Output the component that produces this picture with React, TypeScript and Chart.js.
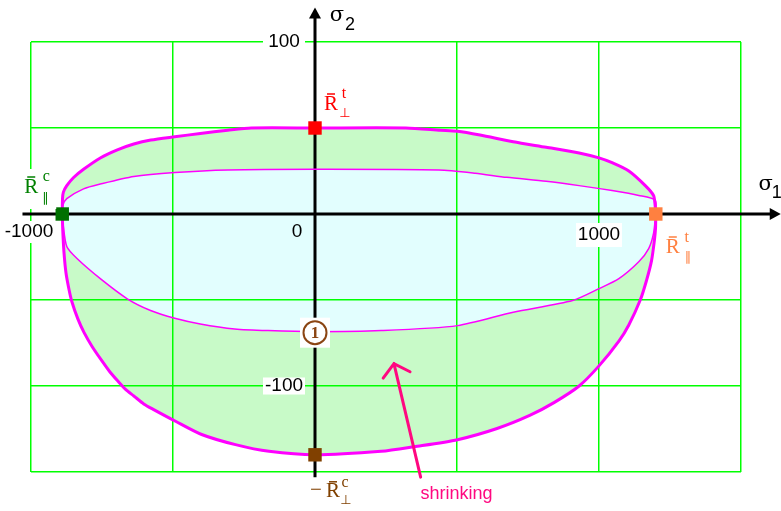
import { useEffect, useRef } from 'react';
import { Chart, registerables } from 'chart.js';

Chart.register(...registerables);

// Failure envelope in the σ1–σ2 plane (outer: initial, inner: after shrinking)
const OUTER_UPPER_X = [-890, -889, -886, -874, -850, -815, -756, -696, -638, -578, -494, -404, -307, -224, 0, 320, 442, 502, 581, 698, 814, 930, 1000, 1046, 1105, 1163, 1192, 1197, 1200];
const OUTER_UPPER_Y = [0, 8.9, 12.7, 16.5, 21.2, 26, 32.6, 37.3, 40.7, 43, 44.9, 46.8, 48.7, 50, 50, 50, 48.7, 48.1, 45.9, 42, 38.8, 35.5, 32.6, 29.8, 25, 16.5, 10.8, 6, 0];

const OUTER_LOWER_X = [-890, -888, -884, -877, -866, -856, -835, -813, -785, -752, -724, -695, -667, -638, -603, -568, -491, -399, -280, -162, 0, 233, 349, 502, 641, 756, 843, 930, 1000, 1070, 1105, 1146, 1167, 1185, 1195, 1199, 1200];
const OUTER_LOWER_Y = [0, -10, -22, -34, -44, -51, -61, -69, -77, -85, -91.4, -97, -102, -105.8, -110.4, -113.7, -120.5, -128.2, -134.1, -138, -140, -138, -135.3, -131.2, -124.7, -117.1, -109.5, -100, -88.3, -73.9, -64.5, -49.7, -38.8, -27.1, -15.4, -8.4, 0];

const INNER_UPPER_X = [-890, -888, -874, -815, -756, -638, -494, -307, 0, 436, 564, 675, 814, 930, 1046, 1140, 1198, 1200];
const INNER_UPPER_Y = [0, 5, 8.9, 14.6, 17.4, 21.8, 24.1, 25.6, 26, 25.6, 23.7, 21.3, 19, 16.5, 13.6, 10.8, 8, 0];

const INNER_LOWER_X = [-890, -887, -874, -838, -756, -661, -579, -494, -404, -283, -165, 0, 233, 502, 698, 907, 1000, 1070, 1140, 1175, 1192, 1200];
const INNER_LOWER_Y = [0, -6, -18.9, -25.9, -37.6, -49.3, -56.1, -60.6, -63.9, -66.8, -67.8, -68.4, -67.8, -64.9, -57.1, -50.3, -43.4, -37.6, -27.8, -20.1, -11.3, 0];

// Strength points on the axes
const MARKER_X = [-890, 0, 1200, 0];
const MARKER_Y = [0, 50, 0, -140];
const MARKER_COLORS = ['#007000', '#ff0000', '#ff8040', '#804000'];

// Axis ranges and tick values
const X_MIN = -1000;
const X_MAX = 1500;
const X_STEP = 500;
const Y_MIN = -150;
const Y_MAX = 100;
const Y_STEP = 50;
const X_TICK_LABELS = [-1000, 0, 1000];
const Y_TICK_LABELS = [100, -100];

// Extent of the drawn coordinate axes (beyond the grid)
const AXIS_X_FROM = -1030;
const AXIS_X_TO = 1640;
const AXIS_Y_FROM = -153;
const AXIS_Y_TO = 120;

// Shrinking annotation (data units)
const ARROW_TAIL = { x: 372, y: -153 };
const ARROW_TIP = { x: 278, y: -87 };
const SHRINK_TEXT = { x: 498, y: -163 };
const STATE_MARK = { x: 0, y: -69 };

const MAGENTA = '#ff00ff';
const PINK = '#ff0880';
const GRID = '#00ff00';
const OUTER_FILL = '#c8fac8';
const INNER_FILL = '#e2fefe';

const pts = (xs: number[], ys: number[]) => xs.map((x, i) => ({ x, y: ys[i] }));

const SANS = '"Liberation Sans", Arial, sans-serif';
const SERIF = '"Liberation Serif", "Times New Roman", serif';
const SYM = '"DejaVu Sans", sans-serif';

type Part = { t: string; dx: number; dy: number; font: string; bar?: boolean };

function drawParts(ctx: CanvasRenderingContext2D, ax: number, ay: number, color: string, parts: Part[]) {
  ctx.fillStyle = color;
  ctx.strokeStyle = color;
  ctx.textAlign = 'center';
  ctx.textBaseline = 'middle';
  for (const p of parts) {
    ctx.font = p.font;
    ctx.fillText(p.t, ax + p.dx, ay + p.dy);
    if (p.bar) {
      ctx.lineWidth = 1.5;
      ctx.beginPath();
      ctx.moveTo(ax + p.dx - 4, ay + p.dy - 10);
      ctx.lineTo(ax + p.dx + 4, ay + p.dy - 10);
      ctx.stroke();
    }
  }
}

function textWithBg(ctx: CanvasRenderingContext2D, text: string, cx: number, cy: number, font: string, w: number, h: number, bg: boolean) {
  if (bg) {
    ctx.fillStyle = '#ffffff';
    ctx.fillRect(cx - w / 2, cy - h / 2, w, h);
  }
  ctx.fillStyle = '#000000';
  ctx.font = font;
  ctx.textAlign = 'center';
  ctx.textBaseline = 'middle';
  ctx.fillText(text, cx, cy);
}

const overlay = {
  id: 'envelopeOverlay',
  beforeDatasetsDraw(chart: any) {
    const { ctx } = chart;
    const xs = chart.scales.x;
    const ys = chart.scales.y;
    const x0 = xs.getPixelForValue(0);
    const y0 = ys.getPixelForValue(0);
    const xl = xs.getPixelForValue(AXIS_X_FROM);
    const xr = xs.getPixelForValue(AXIS_X_TO);
    const yt = ys.getPixelForValue(AXIS_Y_TO);
    const yb = ys.getPixelForValue(AXIS_Y_FROM);
    ctx.save();
    ctx.strokeStyle = '#000';
    ctx.fillStyle = '#000';
    ctx.lineWidth = 3;
    ctx.beginPath();
    ctx.moveTo(xl, y0);
    ctx.lineTo(xr - 8, y0);
    ctx.moveTo(x0, yb);
    ctx.lineTo(x0, yt + 8);
    ctx.stroke();
    ctx.beginPath();
    ctx.moveTo(xr, y0);
    ctx.lineTo(xr - 11, y0 - 6);
    ctx.lineTo(xr - 11, y0 + 6);
    ctx.closePath();
    ctx.fill();
    ctx.beginPath();
    ctx.moveTo(x0, yt);
    ctx.lineTo(x0 - 6, yt + 11);
    ctx.lineTo(x0 + 6, yt + 11);
    ctx.closePath();
    ctx.fill();
    ctx.restore();
  },
  afterDraw(chart: any) {
    const { ctx } = chart;
    const xs = chart.scales.x;
    const ys = chart.scales.y;
    const X = (v: number) => xs.getPixelForValue(v);
    const Y = (v: number) => ys.getPixelForValue(v);
    const x0 = X(0);
    const y0 = Y(0);
    ctx.save();

    // tick labels
    const tf = `19px ${SANS}`;
    for (const v of Y_TICK_LABELS) {
      textWithBg(ctx, String(v), x0 - 31, Y(v), tf, 42, 17, true);
    }
    for (const v of X_TICK_LABELS) {
      if (v === 0) textWithBg(ctx, '0', x0 - 18, y0 + 18, tf, 0, 0, false);
      else if (v < 0) textWithBg(ctx, String(v), X(v) - 2, y0 + 18, tf, 52, 22, true);
      else textWithBg(ctx, String(v), X(v), y0 + 21, tf, 46, 24, true);
    }

    // axis titles σ1, σ2
    ctx.fillStyle = '#000';
    ctx.textAlign = 'center';
    ctx.textBaseline = 'middle';
    ctx.font = `21px "DejaVu Serif", serif`;
    ctx.fillText('σ', x0 + 22, Y(AXIS_Y_TO) + 8);
    ctx.fillText('σ', X(AXIS_X_TO) - 15, y0 - 29);
    ctx.font = `18px ${SANS}`;
    ctx.fillText('2', x0 + 35, Y(AXIS_Y_TO) + 17);
    ctx.fillText('1', X(AXIS_X_TO) - 4, y0 - 21);

    // strength labels next to the markers
    const R = `21px ${SERIF}`;
    const S = `16px ${SERIF}`;
    const G = `13px ${SYM}`;
    const [gx, rx, ox, bx] = MARKER_X.map(X);
    const [gy, ry, oy, by] = MARKER_Y.map(Y);

    ctx.fillStyle = '#ffffff';
    ctx.fillRect(gx - 40, gy - 45, 34, 40);
    drawParts(ctx, gx, gy, '#008000', [
      { t: 'R', dx: -31, dy: -27, font: R, bar: true },
      { t: 'c', dx: -16, dy: -37, font: S },
      { t: '∥', dx: -17, dy: -15, font: G },
    ]);
    drawParts(ctx, rx, ry, '#ff0000', [
      { t: 'R', dx: 16, dy: -24, font: R, bar: true },
      { t: 't', dx: 29, dy: -34, font: S },
      { t: '⊥', dx: 30, dy: -14, font: G },
    ]);
    drawParts(ctx, ox, oy, '#ff8040', [
      { t: 'R', dx: 17, dy: 33, font: R, bar: true },
      { t: 't', dx: 31, dy: 24, font: S },
      { t: '∥', dx: 32, dy: 44, font: G },
    ]);
    drawParts(ctx, bx, by, '#804000', [
      { t: '−', dx: 1, dy: 36, font: R },
      { t: 'R', dx: 18, dy: 37, font: R, bar: true },
      { t: 'c', dx: 30, dy: 28, font: S },
      { t: '⊥', dx: 31, dy: 46, font: G },
    ]);

    // state marker ①
    const sx = X(STATE_MARK.x);
    const sy = Y(STATE_MARK.y);
    ctx.fillStyle = '#ffffff';
    ctx.fillRect(sx - 15, sy - 15, 30, 30);
    ctx.strokeStyle = '#8b4513';
    ctx.lineWidth = 2;
    ctx.beginPath();
    ctx.arc(sx, sy, 11.5, 0, Math.PI * 2);
    ctx.stroke();
    ctx.fillStyle = '#8b4513';
    ctx.font = `bold 17px ${SERIF}`;
    ctx.textAlign = 'center';
    ctx.textBaseline = 'middle';
    ctx.fillText('1', sx, sy + 1);

    // shrinking arrow
    const tx = X(ARROW_TIP.x);
    const ty = Y(ARROW_TIP.y);
    const fx = X(ARROW_TAIL.x);
    const fy = Y(ARROW_TAIL.y);
    const ang = Math.atan2(fy - ty, fx - tx);
    const spread = (50 * Math.PI) / 180;
    const len = 18;
    ctx.strokeStyle = PINK;
    ctx.lineWidth = 3;
    ctx.lineCap = 'round';
    ctx.beginPath();
    ctx.moveTo(fx, fy);
    ctx.lineTo(tx, ty);
    ctx.moveTo(tx + len * Math.cos(ang + spread), ty + len * Math.sin(ang + spread));
    ctx.lineTo(tx, ty);
    ctx.lineTo(tx + len * Math.cos(ang - spread), ty + len * Math.sin(ang - spread));
    ctx.stroke();
    ctx.fillStyle = PINK;
    ctx.font = `18px ${SANS}`;
    ctx.fillText('shrinking', X(SHRINK_TEXT.x), Y(SHRINK_TEXT.y));

    ctx.restore();
  },
};

export default function App() {
  const ref = useRef<HTMLCanvasElement | null>(null);

  useEffect(() => {
    document.body.style.margin = '0';
    document.body.style.background = '#ffffff';
    const canvas = ref.current;
    if (!canvas) return;

    const curve = (data: any[], width: number, fill: string, order: number) => ({
      data,
      showLine: true,
      borderColor: MAGENTA,
      borderWidth: width,
      backgroundColor: fill,
      fill: 'origin',
      pointRadius: 0,
      tension: 0.25,
      order,
    });

    const chart = new Chart(canvas, {
      type: 'scatter',
      data: {
        datasets: [
          {
            data: pts(MARKER_X, MARKER_Y),
            showLine: false,
            pointStyle: 'rect',
            pointRadius: 9.5,
            pointBackgroundColor: MARKER_COLORS,
            pointBorderColor: MARKER_COLORS,
            pointBorderWidth: 0,
            order: 0,
          } as any,
          curve(pts(INNER_UPPER_X, INNER_UPPER_Y), 1.5, INNER_FILL, 2),
          curve(pts(INNER_LOWER_X, INNER_LOWER_Y), 1.5, INNER_FILL, 2),
          curve(pts(OUTER_UPPER_X, OUTER_UPPER_Y), 3, OUTER_FILL, 3),
          curve(pts(OUTER_LOWER_X, OUTER_LOWER_Y), 3, OUTER_FILL, 3),
        ],
      },
      options: {
        responsive: false,
        animation: false,
        events: [],
        layout: { padding: { left: 31, right: 40, top: 42, bottom: 39 } },
        plugins: {
          legend: { display: false },
          tooltip: { enabled: false },
          filler: { drawTime: 'beforeDraw' },
        },
        scales: {
          x: {
            type: 'linear',
            min: X_MIN,
            max: X_MAX,
            ticks: { stepSize: X_STEP, display: false },
            grid: { color: GRID, lineWidth: 1.5, drawTicks: false },
            border: { display: false },
          },
          y: {
            type: 'linear',
            min: Y_MIN,
            max: Y_MAX,
            ticks: { stepSize: Y_STEP, display: false },
            grid: { color: GRID, lineWidth: 1.5, drawTicks: false },
            border: { display: false },
          },
        },
      } as any,
      plugins: [overlay],
    });
    return () => chart.destroy();
  }, []);

  return <canvas ref={ref} width={781} height={511} style={{ display: 'block' }} />;
}
